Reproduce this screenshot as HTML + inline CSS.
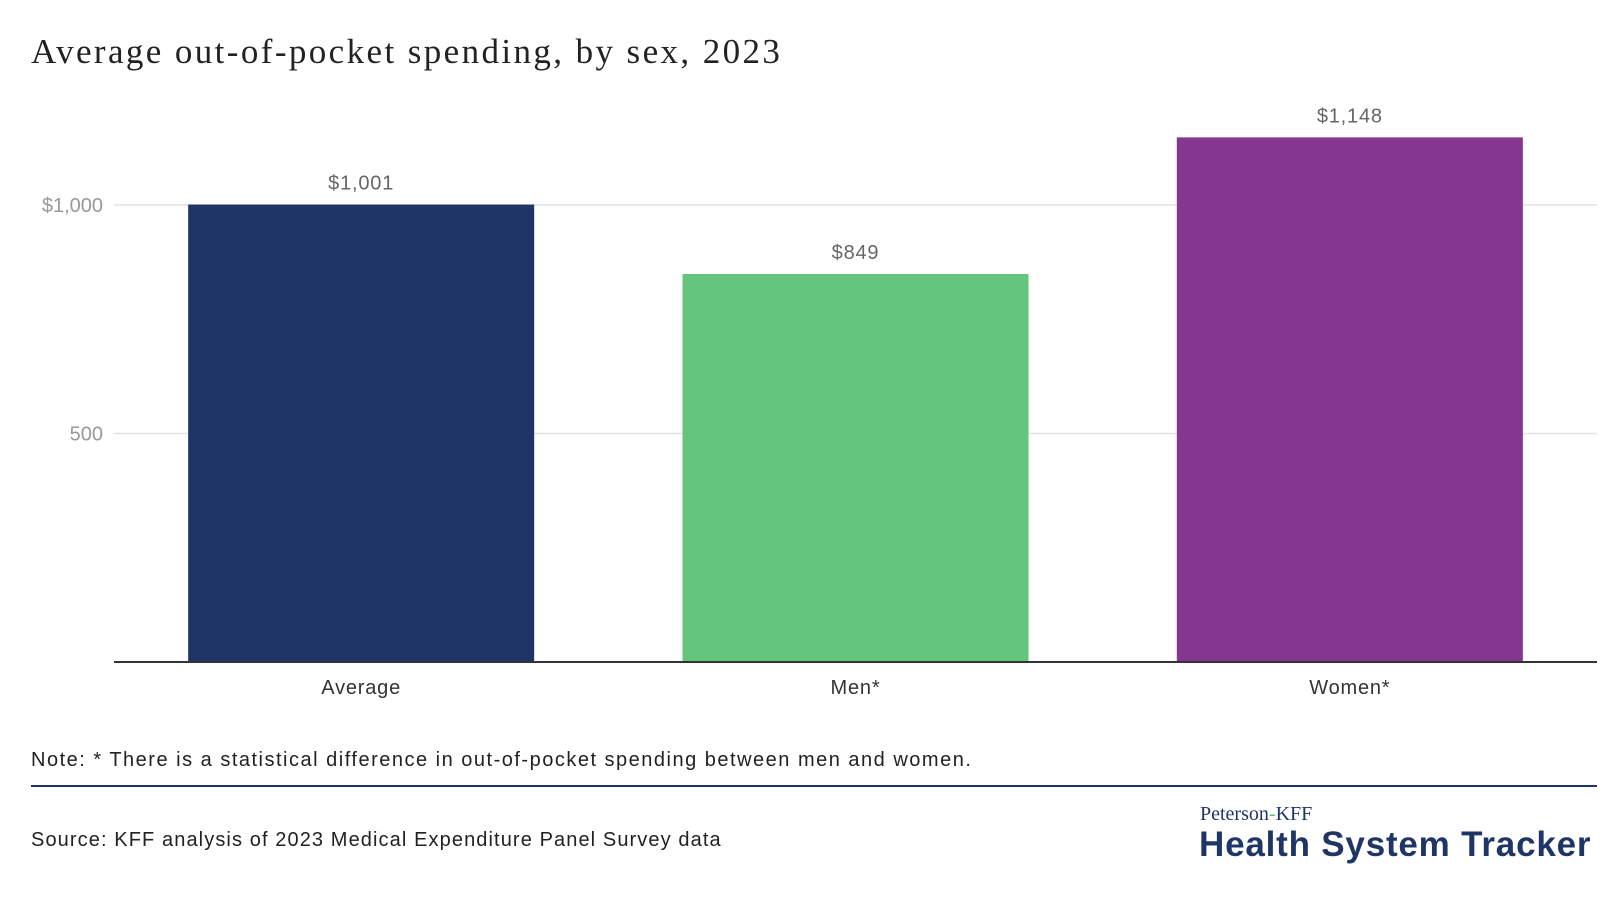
<!DOCTYPE html>
<html><head><meta charset="utf-8"><style>
body{margin:0;background:#fff;width:1620px;height:922px;overflow:hidden;font-family:"Liberation Sans",sans-serif}
.t{position:absolute;white-space:nowrap}
</style></head><body>
<div class="t" style="left:31px;top:32px;font-family:'Liberation Serif',serif;font-size:35px;letter-spacing:2.4px;color:#222">Average out-of-pocket spending, by sex, 2023</div>
<svg id="c" width="1620" height="922" style="position:absolute;left:0;top:0"></svg>
<div class="t" style="left:31px;top:749px;font-size:20px;letter-spacing:1.5px;color:#222">Note: * There is a statistical difference in out-of-pocket spending between men and women.</div>
<div style="position:absolute;left:31px;top:785px;width:1566px;height:2px;background:#1f3566"></div>
<div class="t" style="left:31px;top:829px;font-size:20px;letter-spacing:1.1px;color:#222">Source: KFF analysis of 2023 Medical Expenditure Panel Survey data</div>
<div class="t" style="left:1200px;top:803px;font-family:'Liberation Serif',serif;font-size:20px;color:#1f3566">Peterson<span style="color:#5bbf73">-</span>KFF</div>
<div class="t" style="left:1199px;top:825px;font-size:35px;font-weight:bold;color:#1f3566;letter-spacing:0.8px">Health System Tracker</div>
<script>
const categories=["Average","Men*","Women*"];
const values=[1001,849,1148];
const labels=["$1,001","$849","$1,148"];
const colors=["#1f3566","#64c57d","#85368f"];
const ticks=[500,1000];
const tickLabels=["500","$1,000"];
const svg=document.getElementById('c');const NS="http://www.w3.org/2000/svg";
const x0=114,x1=1597,y0=662,pxPer=228.5/500;
const y=v=>y0-v*pxPer;
const band=(x1-x0)/categories.length;
function mk(t,a){const e=document.createElementNS(NS,t);for(const k in a)e.setAttribute(k,a[k]);svg.appendChild(e);return e;}
ticks.forEach((t,i)=>{
 const g=mk('line',{x1:x0,x2:x1,y1:y(t),y2:y(t),stroke:'#e3e3e3','stroke-width':1.5});
 
 
 const l=mk('text',{x:103,y:y(t)+7,'text-anchor':'end','font-size':20,fill:'#999','font-family':'Liberation Sans, sans-serif'});
 l.textContent=tickLabels[i];
 
 
});
categories.forEach((c,i)=>{
 const cx=x0+band*(i+0.5),w=band*0.7;
 const r=mk('rect',{x:cx-w/2,y:y(values[i]),width:w,height:y0-y(values[i]),fill:colors[i]});
 
 
 const v=mk('text',{x:cx,y:y(values[i])-15,'text-anchor':'middle','font-size':20,'letter-spacing':0.8,fill:'#666','font-family':'Liberation Sans, sans-serif'});
 v.textContent=labels[i];
 
 
 const t=mk('text',{x:cx,y:y0+32,'text-anchor':'middle','font-size':20,'letter-spacing':0.8,fill:'#333','font-family':'Liberation Sans, sans-serif'});
 t.textContent=c;
 
 
});
const ax=mk('line',{x1:x0,x2:x1,y1:y0,y2:y0,stroke:'#333','stroke-width':2});


</script>
</body></html>
